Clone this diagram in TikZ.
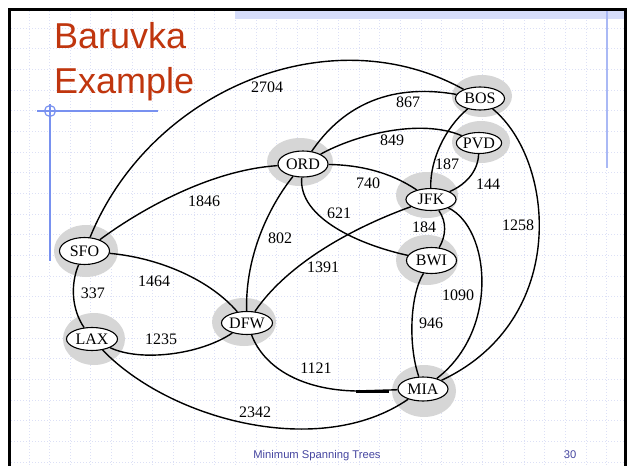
\documentclass[tikz,border=0pt]{standalone}
\usepackage{fontspec}
\setmainfont{Liberation Serif}
\newfontfamily\headfont{Liberation Sans}
\usetikzlibrary{shapes.geometric}
\definecolor{gridline}{RGB}{220,224,246}
\definecolor{bandblue}{RGB}{214,221,250}
\definecolor{crossblue}{RGB}{120,145,240}
\definecolor{ruleblue}{RGB}{170,185,245}
\definecolor{titlered}{RGB}{192,54,14}
\definecolor{footblue}{RGB}{70,70,160}
\definecolor{halogray}{RGB}{214,214,214}
\begin{document}
\begin{tikzpicture}[x=1pt,y=-1pt,
  city/.style={ellipse,draw,line width=1.1pt,fill=white,inner sep=0pt,
    font=\fontsize{16}{16}\selectfont},
  wt/.style={font=\fontsize{16}{16}\selectfont,inner sep=0pt},
  road/.style={line width=1.4pt},
  gridrule/.style={draw=gridline,line width=0.8pt,dash pattern=on 1pt off 2pt}]
\useasboundingbox (0,0) rectangle (633,466);
\fill[white] (0,0) rectangle (633,466);

% dotted background grid inside the frame
\begin{scope}
  \clip (11,11) rectangle (624,466);
  \foreach \k in {0,...,21}
    \draw[gridrule] (11,{28+20.67*\k}) -- (624,{28+20.67*\k});
  \foreach \k in {0,...,28}
    \draw[gridrule] ({29+20.63*\k},11) -- ({29+20.63*\k},466);
\end{scope}

% top band and slide frame
\fill[bandblue] (235,11) rectangle (624,18.5);
\draw[line width=2.7pt] (9.7,466) -- (9.7,9.7) -- (625.5,9.7) -- (625.5,466);

% blue ornaments
\draw[ruleblue,line width=2pt] (607,11) -- (607,168);
\draw[crossblue,line width=1.2pt] (37,111) -- (158,111);
\draw[crossblue,line width=1.2pt] (50,104) -- (50,261);
\draw[crossblue,line width=1.2pt] (50,111) circle (5.5pt);

% title
\node[anchor=base west,inner sep=0pt,text=titlered,
  font=\headfont\fontsize{36}{40}\selectfont] (t1) at (54,48) {Baruvka};
\node[anchor=base west,inner sep=0pt,text=titlered,
  font=\headfont\fontsize{36}{40}\selectfont] (t2) at (54,93) {Example};

% gray halos around the cities
\fill[halogray] (482,96) ellipse [x radius=30pt,y radius=21pt];
\fill[halogray] (481,142) ellipse [x radius=29pt,y radius=21pt];
\fill[halogray] (300,162) ellipse [x radius=33pt,y radius=24pt];
\fill[halogray] (427,195) ellipse [x radius=31pt,y radius=23pt];
\fill[halogray] (427,260) ellipse [x radius=31pt,y radius=25pt];
\fill[halogray] (86,251) ellipse [x radius=32pt,y radius=26pt];
\fill[halogray] (94,339) ellipse [x radius=31pt,y radius=26pt];
\fill[halogray] (244,322) ellipse [x radius=32pt,y radius=24pt];
\fill[halogray] (424,391) ellipse [x radius=32pt,y radius=26pt];

% cities
\node[city,minimum width=49pt,minimum height=23pt] (bos) at (480,98.5) {BOS};
\node[city,minimum width=41pt,minimum height=21pt] (pvd) at (479,143) {PVD};
\node[city,minimum width=50pt,minimum height=26pt] (ord) at (303,164) {ORD};
\node[city,minimum width=50pt,minimum height=22pt] (jfk) at (431,199.5) {JFK};
\node[city,minimum width=50pt,minimum height=26pt] (bwi) at (431.5,260.5) {BWI};
\node[city,minimum width=50pt,minimum height=27pt] (sfo) at (84.5,251) {SFO};
\node[city,minimum width=51pt,minimum height=23pt] (lax) at (92,339) {LAX};
\node[city,minimum width=51pt,minimum height=23pt] (dfw) at (247,323) {DFW};
\node[city,minimum width=50pt,minimum height=24pt] (mia) at (423,389) {MIA};

% flights
\draw[road] (sfo) .. controls (150,90) and (330,15) .. (bos);
\draw[road] (ord) .. controls (340,110) and (385,82) .. (bos);
\draw[road] (ord) .. controls (355,135) and (420,118) .. (pvd);
\draw[road] (ord) .. controls (360,165) and (390,172) .. (jfk);
\draw[road] (ord) .. controls (298,218) and (360,245) .. (bwi);
\draw[road] (ord) .. controls (270,205) and (245,255) .. (dfw);
\draw[road] (jfk) .. controls (360,225) and (290,260) .. (dfw);
\draw[road] (sfo) .. controls (140,210) and (210,170) .. (ord);
\draw[road] (sfo) .. controls (160,258) and (210,280) .. (dfw);
\draw[road] (sfo) .. controls (70,285) and (72,310) .. (lax);
\draw[road] (lax) .. controls (140,362) and (200,355) .. (dfw);
\draw[road] (lax) .. controls (170,420) and (320,460) .. (mia);
\coordinate (k1) at (356,391);
\coordinate (k2) at (389,391);
\draw[road] (dfw) .. controls (265,370) and (305,390) .. (k1) -- (mia);
\draw[line width=3pt] (k1) -- (k2);
\draw[road] (bos) .. controls (445,128) and (430,160) .. (jfk);
\draw[road] (pvd) .. controls (478,172) and (465,185) .. (jfk);
\draw[road] (bos) .. controls (555,160) and (570,320) .. (mia);
\draw[road] (jfk) .. controls (490,228) and (500,330) .. (mia);
\draw[road] (bwi) .. controls (410,295) and (408,345) .. (mia);
\draw[road] (jfk) .. controls (447,222) and (446,236) .. (bwi);

% distances
\node[wt] (w2704) at (267,87) {2704};
\node[wt] (w867) at (408,102) {867};
\node[wt] (w849) at (392,140) {849};
\node[wt] (w187) at (447,164) {187};
\node[wt] (w144) at (488,184) {144};
\node[wt] (w740) at (368,183) {740};
\node[wt] (w621) at (339,213) {621};
\node[wt] (w1846) at (204,201) {1846};
\node[wt] (w802) at (280,238) {802};
\node[wt] (w184) at (424,227) {184};
\node[wt] (w1258) at (518,225) {1258};
\node[wt] (w1391) at (323,267) {1391};
\node[wt] (w1464) at (154,281) {1464};
\node[wt] (w337) at (93,293) {337};
\node[wt] (w1090) at (458,295) {1090};
\node[wt] (w946) at (431,323) {946};
\node[wt] (w1235) at (161,339) {1235};
\node[wt] (w1121) at (316,368) {1121};
\node[wt] (w2342) at (255,412) {2342};

% footer
\node[anchor=base,inner sep=0pt,text=footblue,
  font=\headfont\fontsize{11.2}{12}\selectfont] (foot) at (317,458) {Minimum Spanning Trees};
\node[anchor=base,inner sep=0pt,text=footblue,
  font=\headfont\fontsize{11.2}{12}\selectfont] (page) at (570,458) {30};
\end{tikzpicture}
\end{document}
